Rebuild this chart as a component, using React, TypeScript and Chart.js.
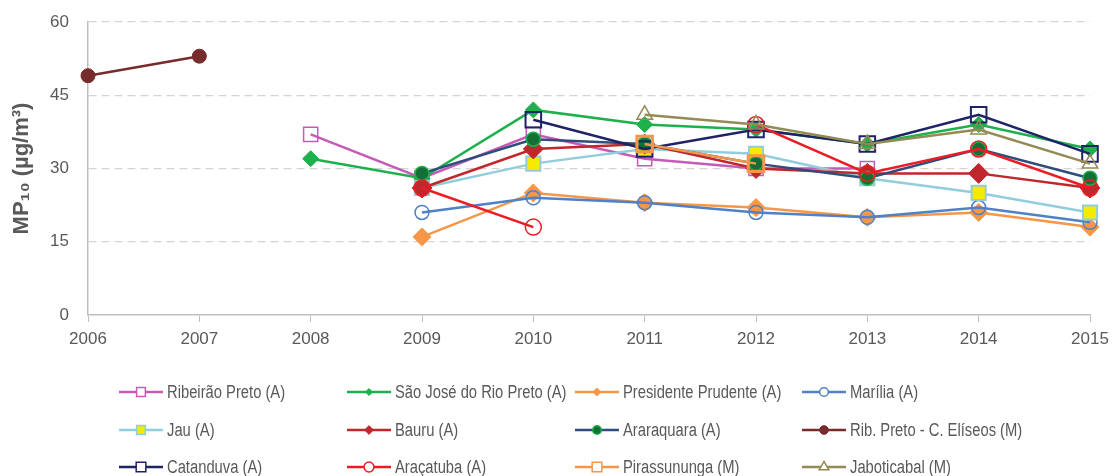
import React, { useEffect, useRef } from "react";
import { Chart, registerables } from "chart.js";

Chart.register(...registerables);

const years = ["2006", "2007", "2008", "2009", "2010", "2011", "2012", "2013", "2014", "2015"];
const yTicks = [0, 15, 30, 45, 60];

const ribeiraoPreto = [null, null, 37, 28, 37, 32, 30, 30, null, null];
const saoJoseRioPreto = [null, null, 32, 28, 42, 39, 38, 35, 39, 34];
const presidentePrudente = [null, null, null, 16, 25, 23, 22, 20, 21, 18];
const marilia = [null, null, null, 21, 24, 23, 21, 20, 22, 19];
const jau = [null, null, null, 26, 31, 34, 33, 28, 25, 21];
const bauru = [null, null, null, 26, 34, 35, 30, 29, 29, 26];
const araraquara = [null, null, null, 29, 36, 35, 31, 28, 34, 28];
const ribPretoCEliseos = [49, 53, null, null, null, null, null, null, null, null];
const catanduva = [null, null, null, null, 40, 34, 38, 35, 41, 33];
const aracatuba = [null, null, null, 26, 18, null, 39, 29, 34, 26];
const pirassununga = [null, null, null, null, null, 35, 31, null, null, null];
const jaboticabal = [null, null, null, null, null, 41, 39, 35, 38, 31];

const FONT = "'Liberation Sans', Arial, sans-serif";
const TEXT = "#595959";

type Def = {
  label: string;
  data: (number | null)[];
  line: string;
  style: string;
  r: number;
  bg: string;
  bc: string;
  pbw: number;
};

const CLEAR = "rgba(0,0,0,0)";

const defs: Def[] = [
  { label: "Ribeirão Preto (A)", data: ribeiraoPreto, line: "#c55bb5", style: "rect", r: 10, bg: CLEAR, bc: "#c55bb5", pbw: 1.5 },
  { label: "São José do Rio Preto (A)", data: saoJoseRioPreto, line: "#1db04c", style: "rectRot", r: 8, bg: "#1db04c", bc: "#1db04c", pbw: 1 },
  { label: "Presidente Prudente (A)", data: presidentePrudente, line: "#f79646", style: "rectRot", r: 9, bg: "#f79646", bc: "#f79646", pbw: 1 },
  { label: "Marília (A)", data: marilia, line: "#4f81c7", style: "circle", r: 7, bg: CLEAR, bc: "#4f81c7", pbw: 1.5 },
  { label: "Jau (A)", data: jau, line: "#93cddd", style: "rect", r: 10, bg: "#f5ea00", bc: "#93cddd", pbw: 2 },
  { label: "Bauru (A)", data: bauru, line: "#c0272d", style: "rectRot", r: 10, bg: "#c0272d", bc: "#c0272d", pbw: 1 },
  { label: "Araraquara (A)", data: araraquara, line: "#2e4d7b", style: "circle", r: 7, bg: "#136f35", bc: "#1fae4b", pbw: 1.5 },
  { label: "Rib. Preto - C. Elíseos (M)", data: ribPretoCEliseos, line: "#772b2b", style: "circle", r: 7, bg: "#772b2b", bc: "#772b2b", pbw: 1 },
  { label: "Catanduva (A)", data: catanduva, line: "#1f2366", style: "rect", r: 11, bg: CLEAR, bc: "#1f2366", pbw: 2 },
  { label: "Araçatuba (A)", data: aracatuba, line: "#ed1c24", style: "circle", r: 8, bg: CLEAR, bc: "#ed1c24", pbw: 1.5 },
  { label: "Pirassununga (M)", data: pirassununga, line: "#f79646", style: "rect", r: 11, bg: CLEAR, bc: "#f79646", pbw: 3 },
  { label: "Jaboticabal (M)", data: jaboticabal, line: "#948a54", style: "triangle", r: 9, bg: CLEAR, bc: "#948a54", pbw: 1.5 },
];

function drawMarker(ctx: CanvasRenderingContext2D, style: string, x: number, y: number, r: number, bg: string, bc: string, bw: number) {
  ctx.save();
  ctx.beginPath();
  if (style === "rect") {
    const s = Math.SQRT1_2 * r;
    ctx.rect(x - s, y - s, 2 * s, 2 * s);
  } else if (style === "rectRot") {
    const s = Math.SQRT1_2 * r;
    ctx.moveTo(x - s, y);
    ctx.lineTo(x, y + s);
    ctx.lineTo(x + s, y);
    ctx.lineTo(x, y - s);
    ctx.closePath();
  } else if (style === "triangle") {
    let a = 0;
    ctx.moveTo(x + Math.sin(a) * r, y - Math.cos(a) * r);
    a += (2 * Math.PI) / 3;
    ctx.lineTo(x + Math.sin(a) * r, y - Math.cos(a) * r);
    a += (2 * Math.PI) / 3;
    ctx.lineTo(x + Math.sin(a) * r, y - Math.cos(a) * r);
    ctx.closePath();
  } else {
    ctx.arc(x, y, r, 0, Math.PI * 2);
  }
  ctx.fillStyle = bg;
  ctx.fill();
  ctx.lineWidth = bw;
  ctx.strokeStyle = bc;
  ctx.stroke();
  ctx.restore();
}

const legendCols = [119, 347, 575, 802];
const legendRows = [392, 430, 467];

const gridLegend = {
  id: "gridLegend",
  afterDraw(chart: any) {
    const ctx: CanvasRenderingContext2D = chart.ctx;
    defs.forEach((d, i) => {
      const x0 = legendCols[i % 4];
      const y = legendRows[Math.floor(i / 4)];
      ctx.save();
      ctx.beginPath();
      ctx.moveTo(x0, y);
      ctx.lineTo(x0 + 44, y);
      ctx.lineWidth = 2.5;
      ctx.strokeStyle = d.line;
      ctx.stroke();
      ctx.restore();
      const bg = d.bg === CLEAR ? "#ffffff" : d.bg;
      drawMarker(ctx, d.style, x0 + 22, y, d.r * 0.62, bg, d.bc, Math.min(d.pbw, 1.5));
      ctx.save();
      ctx.translate(x0 + 48, y + 1);
      ctx.scale(0.82, 1);
      ctx.font = `18px ${FONT}`;
      ctx.fillStyle = TEXT;
      ctx.textBaseline = "middle";
      ctx.textAlign = "left";
      ctx.fillText(d.label, 0, 0);
      ctx.restore();
    });
  },
};

export default function App() {
  const ref = useRef<HTMLCanvasElement | null>(null);

  useEffect(() => {
    document.body.style.margin = "0";
    const canvas = ref.current;
    if (!canvas) return;
    const n = defs.length;
    const chart = new Chart(canvas, {
      type: "line",
      data: {
        labels: years,
        datasets: defs.map((d, i) => ({
          label: d.label,
          data: d.data,
          borderColor: d.line,
          backgroundColor: d.bg,
          borderWidth: 2.5,
          pointStyle: d.style as any,
          pointRadius: d.r,
          pointHoverRadius: d.r,
          pointBackgroundColor: d.bg,
          pointBorderColor: d.bc,
          pointBorderWidth: d.pbw,
          tension: 0,
          spanGaps: false,
          clip: false as any,
          order: n - i,
        })),
      },
      options: {
        responsive: false,
        animation: false,
        layout: { autoPadding: false, padding: { left: 0, right: 22, top: 22, bottom: 130 } },
        plugins: {
          legend: { display: false },
          tooltip: { enabled: false },
          title: { display: false },
        },
        scales: {
          x: {
            type: "category",
            offset: false,
            grid: { drawOnChartArea: false, drawTicks: true, tickLength: 7, color: "#bfbfbf" },
            border: { display: true, color: "#bfbfbf", width: 1.5 },
            ticks: { color: TEXT, font: { family: FONT, size: 17 }, padding: 7, maxRotation: 0, autoSkip: false },
            afterFit: (s: any) => { s.height = 31; s.paddingLeft = 0; s.paddingRight = 0; },
          },
          y: {
            min: 0,
            max: 60,
            afterBuildTicks: (s: any) => { s.ticks = yTicks.map((v) => ({ value: v })); },
            grid: {
              color: (c: any) => (c.tick && c.tick.value === 0 ? CLEAR : "#d4d4d4"),
              drawTicks: false,
              lineWidth: 1.3,
            },
            border: { display: true, color: "#bfbfbf", width: 1.5, dash: [8, 5] },
            ticks: { color: TEXT, font: { family: FONT, size: 17 }, padding: 19 },
            title: {
              display: true,
              text: "MP₁₀ (µg/m³)",
              color: TEXT,
              font: { family: FONT, size: 22, weight: "bold" },
              padding: { top: 9, bottom: 0 },
            },
            afterFit: (s: any) => { s.width = 88; s.paddingTop = 0; s.paddingBottom = 0; },
          },
        },
      },
      plugins: [gridLegend],
    });
    return () => chart.destroy();
  }, []);

  return (
    <div style={{ width: 1112, height: 476 }}>
      <canvas ref={ref} width={1112} height={476} />
    </div>
  );
}
